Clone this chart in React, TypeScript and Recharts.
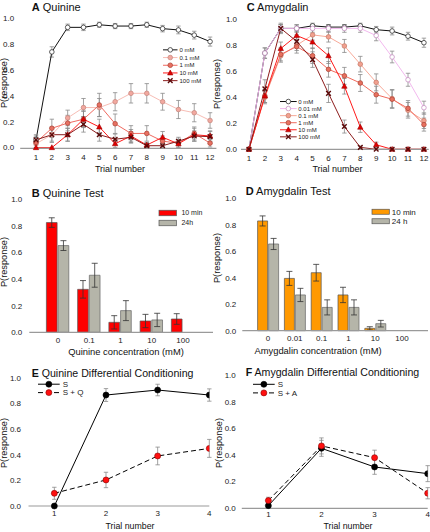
import React from "react";
import { LineChart, Line, BarChart, Bar, XAxis, YAxis, ErrorBar, Legend } from "recharts";

const FONT = "'Liberation Sans', Arial, sans-serif";
const TICK = { fontSize: 8, fill: "#222" };
const AXIS = { stroke: "#9a9a9a", strokeWidth: 1.2 };

// ---- A: quinine, trials 1..12
const trials = [1, 2, 3, 4, 5, 6, 7, 8, 9, 10, 11, 12];
const quinine0 = [0.06, 0.74, 0.93, 0.93, 0.95, 0.94, 0.94, 0.95, 0.92, 0.91, 0.87, 0.82];
const quinine0Err = [0.03, 0.04, 0.025, 0.025, 0.02, 0.02, 0.02, 0.02, 0.025, 0.03, 0.03, 0.035];
const quinine01 = [0.03, 0.1, 0.23, 0.31, 0.31, 0.355, 0.42, 0.42, 0.355, 0.295, 0.27, 0.21];
const quinine01Err = [0.03, 0.06, 0.06, 0.07, 0.07, 0.07, 0.075, 0.075, 0.065, 0.07, 0.07, 0.06];
const quinine1 = [0.04, 0.15, 0.19, 0.22, 0.33, 0.185, 0.11, 0.11, 0.05, 0.035, 0.11, 0.035];
const quinine1Err = [0.04, 0.07, 0.06, 0.065, 0.09, 0.075, 0.06, 0.06, 0.04, 0.03, 0.05, 0.03];
const quinine10 = [0, 0, 0.1, 0.22, 0.16, 0.03, 0.09, 0.02, 0.08, 0.03, 0.1, 0.09];
const quinine10Err = [0, 0, 0.05, 0.06, 0.06, 0.03, 0.05, 0.02, 0.045, 0.03, 0.05, 0.04];
const quinine100 = [0.06, 0.1, 0.1, 0.18, 0.1, 0.065, 0.08, 0.015, 0.015, 0.05, 0.09, 0.085];
const quinine100Err = [0.04, 0.05, 0.05, 0.06, 0.05, 0.04, 0.045, 0.02, 0.02, 0.03, 0.04, 0.04];

// ---- C: amygdalin, trials 1..12
const amyg0 = [0, 0.74, 0.93, 0.93, 0.95, 0.94, 0.94, 0.95, 0.92, 0.91, 0.87, 0.82];
const amyg0Err = [0, 0.04, 0.03, 0.025, 0.02, 0.02, 0.02, 0.02, 0.025, 0.03, 0.03, 0.035];
const amyg001 = [0, 0.74, 0.93, 0.93, 0.93, 0.93, 0.93, 0.93, 0.875, 0.71, 0.535, 0.32];
const amyg001Err = [0, 0.04, 0.03, 0.03, 0.03, 0.03, 0.03, 0.03, 0.04, 0.045, 0.05, 0.05];
const amyg01 = [0, 0.4, 0.72, 0.8, 0.88, 0.865, 0.795, 0.655, 0.515, 0.39, 0.3, 0.22];
const amyg01Err = [0, 0.05, 0.05, 0.04, 0.04, 0.04, 0.05, 0.06, 0.065, 0.07, 0.06, 0.06];
const amyg1 = [0, 0.41, 0.73, 0.79, 0.72, 0.615, 0.565, 0.51, 0.42, 0.385, 0.315, 0.19];
const amyg1Err = [0, 0.05, 0.05, 0.05, 0.06, 0.06, 0.065, 0.065, 0.065, 0.07, 0.06, 0.05];
const amyg10 = [0, 0.41, 0.775, 0.875, 0.825, 0.72, 0.485, 0.17, 0.035, 0, 0, 0];
const amyg10Err = [0, 0.05, 0.05, 0.04, 0.05, 0.06, 0.06, 0.04, 0.02, 0, 0, 0];
const amyg100 = [0, 0.465, 0.93, 0.83, 0.69, 0.43, 0.175, 0.015, 0, 0, 0, 0];
const amyg100Err = [0, 0.07, 0.04, 0.05, 0.06, 0.07, 0.05, 0.01, 0, 0, 0, 0];

// ---- B: quinine test
const quinineConc = ["0", "0.1", "1", "10", "100"];
const quinine10min = [0.825, 0.323, 0.075, 0.085, 0.1];
const quinine10minErr = [0.036, 0.066, 0.05, 0.05, 0.04];
const quinine24h = [0.652, 0.429, 0.163, 0.093, null];
const quinine24hErr = [0.037, 0.09, 0.075, 0.05, null];

// ---- D: amygdalin test
const amygConc = ["0", "0.01", "0.1", "1", "10", "100"];
const amyg10min = [0.829, 0.395, 0.438, 0.27, 0.018, null];
const amyg10minErr = [0.038, 0.053, 0.063, 0.058, 0.012, null];
const amyg24h = [0.655, 0.27, 0.176, 0.176, 0.053, null];
const amyg24hErr = [0.042, 0.05, 0.057, 0.057, 0.025, null];

// ---- E / F: differential conditioning
const condTrials = [1, 2, 3, 4];
const quinineS = [0, 0.865, 0.904, 0.865];
const quinineSErr = [0, 0.05, 0.045, 0.048];
const quinineSQ = [0.099, 0.203, 0.39, 0.449];
const quinineSQErr = [0.047, 0.06, 0.069, 0.07];
const amygS = [0.02, 0.45, 0.31, 0.26];
const amygSErr = [0.01, 0.06, 0.055, 0.06];
const amygSA = [0.058, 0.468, 0.38, 0.113];
const amygSAErr = [0.025, 0.06, 0.056, 0.042];

const yTicks = [0, 0.2, 0.4, 0.6, 0.8, 1];
const fmt = (v: number) => v.toFixed(1);

type Marker = "open" | "circle" | "triangle" | "cross" | "big";
type Style = { name: string; stroke: string; marker: Marker; fill: string; mstroke: string; dash?: string };

const drawMarker = (m: Marker, cx: number, cy: number, fill: string, stroke: string, key?: any) => {
  if (m === "triangle")
    return <polygon key={key} points={`${cx},${cy - 2.9} ${cx - 2.7},${cy + 2} ${cx + 2.7},${cy + 2}`} fill={fill} stroke={stroke} strokeWidth={0.6} />;
  if (m === "cross")
    return (
      <g key={key} stroke={stroke} strokeWidth={1.4}>
        <line x1={cx - 2.3} y1={cy - 2.3} x2={cx + 2.3} y2={cy + 2.3} />
        <line x1={cx - 2.3} y1={cy + 2.3} x2={cx + 2.3} y2={cy - 2.3} />
      </g>
    );
  if (m === "big") return <circle key={key} cx={cx} cy={cy} r={3} fill={fill} stroke={stroke} strokeWidth={0.6} />;
  return <circle key={key} cx={cx} cy={cy} r={2.3} fill={fill} stroke={stroke} strokeWidth={0.8} />;
};

const dotFor = (s: Style) => (p: any) => {
  if (p.cx == null || p.cy == null) return <g key={p.index} />;
  return drawMarker(s.marker, p.cx, p.cy, s.fill, s.mstroke, p.index);
};

const quinineStyles: Style[] = [
  { name: "0 mM", stroke: "#111", marker: "open", fill: "#fff", mstroke: "#333" },
  { name: "0.1 mM", stroke: "#f7bdb5", marker: "circle", fill: "#f2a89f", mstroke: "#c98a82" },
  { name: "1 mM", stroke: "#f06a60", marker: "circle", fill: "#e87062", mstroke: "#b04a3c" },
  { name: "10 mM", stroke: "#ff1a1a", marker: "triangle", fill: "#e00000", mstroke: "#a00000" },
  { name: "100 mM", stroke: "#8c1c1c", marker: "cross", fill: "#6a1010", mstroke: "#5a0a0a" },
];
const amygStyles: Style[] = [
  { name: "0 mM", stroke: "#111", marker: "open", fill: "#fff", mstroke: "#333" },
  { name: "0.01 mM", stroke: "#f2b8ee", marker: "open", fill: "#fff", mstroke: "#c893c4" },
  { name: "0.1 mM", stroke: "#f7a998", marker: "circle", fill: "#f2a08f", mstroke: "#c9806f" },
  { name: "1 mM", stroke: "#f06a5c", marker: "circle", fill: "#e8705e", mstroke: "#b04a3c" },
  { name: "10 mM", stroke: "#ff1a1a", marker: "triangle", fill: "#e00000", mstroke: "#a00000" },
  { name: "100 mM", stroke: "#8c1c1c", marker: "cross", fill: "#6a1010", mstroke: "#5a0a0a" },
];
const quinineCondStyles: Style[] = [
  { name: "S", stroke: "#000", marker: "big", fill: "#000", mstroke: "#000" },
  { name: "S + Q", stroke: "#000", marker: "big", fill: "#ff1010", mstroke: "#800", dash: "5 3" },
];
const amygCondStyles: Style[] = [
  { name: "S", stroke: "#000", marker: "big", fill: "#000", mstroke: "#000" },
  { name: "S + A", stroke: "#000", marker: "big", fill: "#ff1010", mstroke: "#800", dash: "5 3" },
];

const LineLegend = ({ items, row, lineW, gap, size }: { items: Style[]; row: number; lineW: number; gap: number; size: number }) => (
  <svg width={lineW + 50} height={items.length * row} style={{ display: "block", overflow: "visible" }}>
    {items.map((it, i) => {
      const y = i * row + row / 2;
      return (
        <g key={it.name}>
          <line x1={0} x2={lineW} y1={y} y2={y} stroke={it.stroke} strokeWidth={1} strokeDasharray={it.dash} />
          {drawMarker(it.marker, lineW / 2, y, it.fill, it.mstroke)}
          <text x={lineW + gap} y={y} dy="0.35em" fontSize={size} fill="#222" fontFamily={FONT}>{it.name}</text>
        </g>
      );
    })}
  </svg>
);

const BarLegend = ({ items, row, boxW, boxH, gap, size }: { items: { name: string; fill: string }[]; row: number; boxW: number; boxH: number; gap: number; size: number }) => (
  <svg width={boxW + 40} height={items.length * row} style={{ display: "block", overflow: "visible" }}>
    {items.map((it, i) => {
      const y = i * row + row / 2;
      return (
        <g key={it.name}>
          <rect x={0} y={y - boxH / 2} width={boxW} height={boxH} fill={it.fill} stroke="#555" strokeWidth={0.7} />
          <text x={boxW + gap} y={y} dy="0.35em" fontSize={size} fill="#222" fontFamily={FONT}>{it.name}</text>
        </g>
      );
    })}
  </svg>
);

const Title = ({ x, y, letter, text, size = 11 }: { x: number; y: number; letter: string; text: string; size?: number }) => (
  <div style={{ position: "absolute", left: x, top: y - 6, fontSize: size, lineHeight: "12px", whiteSpace: "pre", color: "#111" }}>
    <b>{letter}</b> {text}
  </div>
);

const AxisText = ({ x, y, text, rotate = false, size = 9 }: { x: number; y: number; text: string; rotate?: boolean; size?: number }) => (
  <div
    style={{
      position: "absolute", left: x, top: y, fontSize: size, lineHeight: 1, whiteSpace: "nowrap", color: "#111",
      transform: `translate(-50%, -50%)${rotate ? " rotate(-90deg)" : ""}`,
    }}
  >
    {text}
  </div>
);

type Panel = { left: number; top: number; width: number; height: number; mTop: number; mRight: number; yW: number; xH: number; yGap: number; xGap: number };

const TrialPanel = ({ p, domain, xs, series, styles, legend }: { p: Panel; domain: [number, number]; xs: number[]; series: [number[], number[]][]; styles: Style[]; legend: { left: number; top: number; row: number; lineW: number; gap: number; size: number } }) => {
  const data = xs.map((t, i) => {
    const row: Record<string, number> = { trial: t };
    series.forEach(([v, e], k) => {
      row[`v${k}`] = v[i];
      row[`e${k}`] = e[i];
    });
    return row;
  });
  return (
    <div style={{ position: "absolute", left: p.left, top: p.top }}>
      <LineChart width={p.width} height={p.height} data={data} margin={{ top: p.mTop, right: p.mRight, bottom: 0, left: 0 }}>
        <XAxis type="number" dataKey="trial" domain={domain} ticks={xs} interval={0} tickLine={false} tickSize={0} tickMargin={p.xGap} axisLine={AXIS} tick={TICK} height={p.xH} allowDataOverflow />
        <YAxis type="number" domain={[0, 1]} ticks={yTicks} interval={0} tickFormatter={fmt} axisLine={false} tickLine={false} tickSize={0} tickMargin={p.yGap} tick={TICK} width={p.yW} />
        {styles.map((s, k) => (
          <Line key={s.name} dataKey={`v${k}`} name={s.name} stroke={s.stroke} strokeWidth={1} strokeDasharray={s.dash} dot={dotFor(s)} activeDot={false} isAnimationActive={false}>
            <ErrorBar dataKey={`e${k}`} direction="y" width={2.2} stroke="#8a8a8a" strokeWidth={0.8} isAnimationActive={false} />
          </Line>
        ))}
        <Legend layout="vertical" align="center" verticalAlign="middle" wrapperStyle={{ left: legend.left, top: legend.top, width: "auto" }}
          content={() => <LineLegend items={styles} row={legend.row} lineW={legend.lineW} gap={legend.gap} size={legend.size} />} />
      </LineChart>
    </div>
  );
};

const BarPanel = ({ p, cats, a, aErr, b, bErr, colorA, names, padL, padR, barSize, legend }: { p: Panel; cats: string[]; a: (number | null)[]; aErr: (number | null)[]; b: (number | null)[]; bErr: (number | null)[]; colorA: string; names: [string, string]; padL: number; padR: number; barSize: number; legend: { left: number; top: number; row: number; boxW: number; boxH: number; gap: number; size: number } }) => {
  const data = cats.map((c, i) => ({ conc: c, a: a[i], ae: aErr[i], b: b[i], be: bErr[i] }));
  return (
    <div style={{ position: "absolute", left: p.left, top: p.top }}>
      <BarChart width={p.width} height={p.height} data={data} margin={{ top: p.mTop, right: p.mRight, bottom: 0, left: 0 }} barGap={1} barSize={barSize}>
        <XAxis dataKey="conc" padding={{ left: padL, right: padR }} interval={0} tickLine={false} tickSize={0} tickMargin={p.xGap} axisLine={AXIS} tick={TICK} height={p.xH} />
        <YAxis type="number" domain={[0, 1]} ticks={yTicks} interval={0} tickFormatter={fmt} axisLine={false} tickLine={false} tickSize={0} tickMargin={p.yGap} tick={TICK} width={p.yW} />
        <Bar dataKey="a" name={names[0]} fill={colorA} stroke="#555" strokeWidth={0.7} isAnimationActive={false}>
          <ErrorBar dataKey="ae" direction="y" width={3} stroke="#333" strokeWidth={0.8} isAnimationActive={false} />
        </Bar>
        <Bar dataKey="b" name={names[1]} fill="#b5b5a9" stroke="#666" strokeWidth={0.7} isAnimationActive={false}>
          <ErrorBar dataKey="be" direction="y" width={3} stroke="#333" strokeWidth={0.8} isAnimationActive={false} />
        </Bar>
        <Legend layout="vertical" align="center" verticalAlign="middle" wrapperStyle={{ left: legend.left, top: legend.top, width: "auto" }}
          content={() => (
            <BarLegend items={[{ name: names[0], fill: colorA }, { name: names[1], fill: "#b5b5a9" }]} row={legend.row} boxW={legend.boxW} boxH={legend.boxH} gap={legend.gap} size={legend.size} />
          )} />
      </BarChart>
    </div>
  );
};

export default function App() {
  return (
    <div style={{ position: "absolute", left: 0, top: 0, width: 430, height: 532, background: "#fff", fontFamily: FONT, overflow: "hidden" }}>
      <TrialPanel
        p={{ left: 0, top: 0, width: 220, height: 180, mTop: 18.3, mRight: 3.6, yW: 20.2, xH: 31.7, yGap: 6, xGap: 5.8 }}
        domain={[0, 12.4]} xs={trials}
        series={[[quinine0, quinine0Err], [quinine01, quinine01Err], [quinine1, quinine1Err], [quinine10, quinine10Err], [quinine100, quinine100Err]]}
        styles={quinineStyles}
        legend={{ left: 162.7, top: 46.2, row: 7.7, lineW: 14.5, gap: 2, size: 6 }}
      />
      <TrialPanel
        p={{ left: 215, top: 0, width: 215, height: 180, mTop: 19.3, mRight: 1.3, yW: 26, xH: 30.7, yGap: 4, xGap: 5.8 }}
        domain={[0.5, 12.3]} xs={trials}
        series={[[amyg0, amyg0Err], [amyg001, amyg001Err], [amyg01, amyg01Err], [amyg1, amyg1Err], [amyg10, amyg10Err], [amyg100, amyg100Err]]}
        styles={amygStyles}
        legend={{ left: 65, top: 98.2, row: 7.06, lineW: 16.7, gap: 1.6, size: 6 }}
      />
      <BarPanel
        p={{ left: 0, top: 175, width: 220, height: 180, mTop: 24.3, mRight: 7, yW: 29.3, xH: 22.7, yGap: 7, xGap: 5 }}
        cats={quinineConc} a={quinine10min} aErr={quinine10minErr} b={quinine24h} bErr={quinine24hErr}
        colorA="#ff0000" names={["10 min", "24h"]} padL={13.1} padR={14.4} barSize={10.7}
        legend={{ left: 159.3, top: 33.2, row: 10, boxW: 17.4, boxH: 5.5, gap: 5, size: 7 }}
      />
      <BarPanel
        p={{ left: 215, top: 175, width: 215, height: 180, mTop: 23.3, mRight: 2, yW: 27.3, xH: 24.3, yGap: 6, xGap: 4.7 }}
        cats={amygConc} a={amyg10min} aErr={amyg10minErr} b={amyg24h} bErr={amyg24hErr}
        colorA="#ff9900" names={["10 min", "24 h"]} padL={12.3} padR={12.6} barSize={10}
        legend={{ left: 156.7, top: 31.9, row: 9.5, boxW: 17.3, boxH: 5, gap: 2.5, size: 8 }}
      />
      <TrialPanel
        p={{ left: 0, top: 350, width: 220, height: 182, mTop: 27.7, mRight: 10.7, yW: 28.5, xH: 26, yGap: 7.5, xGap: 4.8 }}
        domain={[0.5, 4]} xs={condTrials}
        series={[[quinineS, quinineSErr], [quinineSQ, quinineSQErr]]}
        styles={quinineCondStyles}
        legend={{ left: 38.3, top: 30.1, row: 8.4, lineW: 21.7, gap: 3, size: 8 }}
      />
      <TrialPanel
        p={{ left: 215, top: 350, width: 215, height: 182, mTop: 25, mRight: 2.3, yW: 26.8, xH: 23.7, yGap: 6, xGap: 3.5 }}
        domain={[0.5, 4]} xs={condTrials}
        series={[[amygS, amygSErr], [amygSA, amygSAErr]]}
        styles={amygCondStyles}
        legend={{ left: 38.3, top: 30, row: 8.6, lineW: 21.7, gap: 3, size: 8 }}
      />

      <Title x={31.7} y={7} letter="A" text="Quinine" />
      <Title x={246.7} y={7} letter="C" text="Amygdalin" />
      <Title x={31.7} y={192.7} letter="B" text="Quinine Test" />
      <Title x={245.7} y={190.7} letter="D" text="Amygdalin Test" />
      <Title x={31.7} y={373.3} letter="E" text="Quinine Differential Conditioning" size={10.6} />
      <Title x={245.7} y={371.7} letter="F" text="Amygdalin Differential Conditioning" size={10.6} />

      <AxisText x={4.7} y={83} text="P(response)" rotate size={9.2} />
      <AxisText x={218.3} y={84} text="P(response)" rotate size={9.2} />
      <AxisText x={5} y={262} text="P(response)" rotate size={9.2} />
      <AxisText x={218} y={258} text="P(response)" rotate size={9.2} />
      <AxisText x={4.5} y={443} text="P(response)" rotate size={9.2} />
      <AxisText x={219.5} y={443} text="P(response)" rotate size={9.2} />

      <AxisText x={120} y={169} text="Trial number" />
      <AxisText x={337.5} y={169} text="Trial number" />
      <AxisText x={126} y={352} text="Quinine concentration (mM)" size={9.4} />
      <AxisText x={318} y={351} text="Amygdalin concentration (mM)" size={9.4} />
      <AxisText x={130} y={526} text="Trial number" size={8.8} />
      <AxisText x={348} y={526} text="Trial number" size={8.8} />
    </div>
  );
}
